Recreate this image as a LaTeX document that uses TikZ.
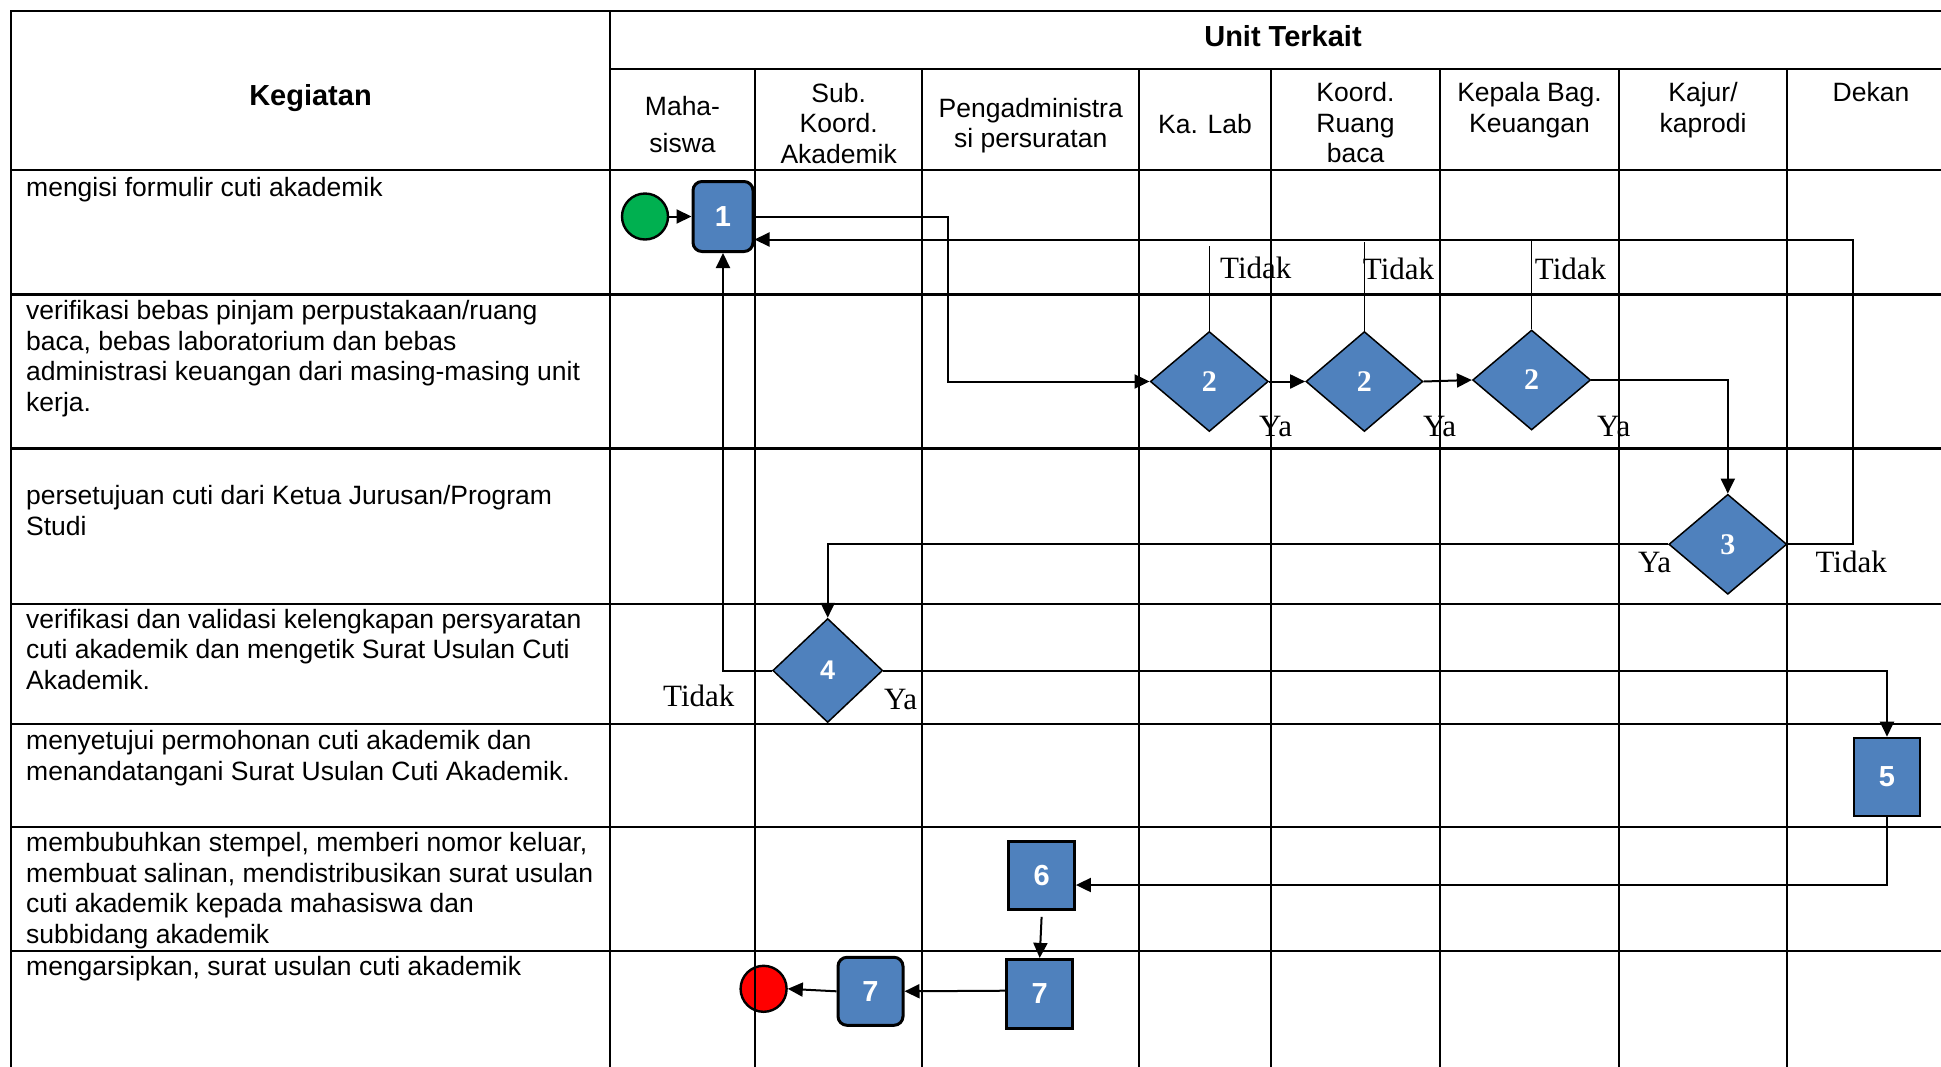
\documentclass[tikz,border=0pt]{standalone}
\usepackage{fontspec}
\setmainfont{Liberation Serif}
\newfontfamily\arialf{Liberation Sans}
\usetikzlibrary{shapes.geometric,arrows.meta}
\definecolor{boxblue}{HTML}{4F81BD}
\definecolor{startgreen}{HTML}{00B050}
\begin{document}
\begin{tikzpicture}[x=1pt,y=-1pt,
  tablerule/.style={line width=2.4pt},
  conn/.style={line width=2pt,-{Triangle[length=15pt,width=14pt]}},
  thinline/.style={line width=1.4pt},
  numsans/.style={text=white,font=\arialf\bfseries\fontsize{29}{29}\selectfont},
  numserif/.style={text=white,font=\bfseries\fontsize{30}{30}\selectfont},
  procbox/.style={rectangle,fill=boxblue,draw=black,line width=2.6pt,inner sep=0pt,numsans},
  rprocbox/.style={procbox,rounded corners=9pt,line width=3pt},
  decision/.style={diamond,fill=boxblue,draw=black,line width=1.5pt,inner sep=0pt},
  terminal/.style={circle,draw=black,line width=2.4pt,minimum size=46pt,inner sep=0pt},
  lbl/.style={font=\fontsize{31}{31}\selectfont,inner sep=0pt,anchor=base west},
  kegtext/.style={font=\arialf\fontsize{26.5}{30.5}\selectfont,align=left,inner sep=0pt,anchor=base west},
  headtext/.style={font=\arialf\fontsize{26.5}{30.5}\selectfont,align=center,inner sep=0pt,anchor=base},
  headbold/.style={font=\arialf\bfseries\fontsize{29}{29}\selectfont,inner sep=0pt,anchor=base},
]
\useasboundingbox[fill=white] (0,0) rectangle (1941,1066);

% header texts (anchor = baseline of the last line)
\node[headbold] (hkeg) at (310.5,105) {Kegiatan};
\node[headbold] (hunit) at (1283,46.7) {Unit Terkait};
\node[headtext] (hmaha) at (682.5,152) {Maha-\\[6pt]siswa};
\node[headtext] (hsub) at (838.7,163) {Sub.\\Koord.\\Akademik};
\node[headtext] (hpeng) at (1030.7,147.5) {Pengadministra\\si persuratan};
\node[headtext] (hlab) at (1205,133.3) {Ka. Lab};
\node[headtext] (hkoord) at (1355.5,162.7) {Koord.\\Ruang\\baca};
\node[headtext] (hkeu) at (1529.5,132) {Kepala Bag.\\Keuangan};
\node[headtext] (hkajur) at (1703,132) {Kajur/\\kaprodi};
\node[headtext] (hdekan) at (1871,101.7) {Dekan};

% activity texts (anchor = baseline of the last line)
\node[kegtext] (k1) at (26,196) {mengisi formulir cuti akademik};
\node[kegtext] (k2) at (26,411) {verifikasi bebas pinjam perpustakaan/ruang\\baca, bebas laboratorium dan bebas\\administrasi keuangan dari masing-masing unit\\kerja.};
\node[kegtext] (k3) at (26,535) {persetujuan cuti dari Ketua Jurusan/Program\\Studi};
\node[kegtext] (k4) at (26,689) {verifikasi dan validasi kelengkapan persyaratan\\cuti akademik dan mengetik Surat Usulan Cuti\\Akademik.};
\node[kegtext] (k5) at (26,780) {menyetujui permohonan cuti akademik dan\\menandatangani Surat Usulan Cuti Akademik.};
\node[kegtext] (k6) at (26,943) {membubuhkan stempel, memberi nomor keluar,\\membuat salinan, mendistribusikan surat usulan\\cuti akademik kepada mahasiswa dan\\subbidang akademik};
\node[kegtext] (k7) at (26,975) {mengarsipkan, surat usulan cuti akademik};

% shapes
\node[terminal,fill=startgreen] (start) at (645,216.5) {};
\node[rprocbox,minimum width=60pt,minimum height=70pt] (p1) at (723,216.5) {1};
\node[decision,numserif,minimum width=118pt,minimum height=100pt] (d1) at (1209.3,381.5) {2};
\node[decision,numserif,minimum width=117pt,minimum height=100pt] (d2) at (1364.4,381.5) {2};
\node[decision,numserif,minimum width=118pt,minimum height=100pt] (d3) at (1531.6,380) {2};
\node[decision,numserif,minimum width=118pt,minimum height=100pt] (d4) at (1727.8,544.3) {3};
\node[decision,numsans,font=\arialf\bfseries\fontsize{27}{27}\selectfont,minimum width=110pt,minimum height=104pt] (d5) at (827.7,670.5) {4};
\node[procbox,minimum width=66pt,minimum height=78pt] (p5) at (1887,777) {5};
\node[procbox,minimum width=66pt,minimum height=68pt] (p6) at (1041.6,875.5) {6};
\node[procbox,minimum width=66pt,minimum height=69pt] (p7a) at (1039.7,993.7) {7};
\node[rprocbox,minimum width=65pt,minimum height=68pt] (p7b) at (870.5,991.3) {7};
\node[terminal,fill=red] (stop) at (763.6,988.8) {};

% connectors
\coordinate (rtop) at (1853,239.5);
\draw[conn] (start.east) -- (p1.west);
\draw[conn] (p1.east) -- ++(193,0) |- (d1.west);
\draw[conn] (d1.east) -- (d2.west);
\draw[conn] (d2.east) -- (d3.west);
\draw[conn] (d3.east) -| (d4.north);
\draw[conn] (d4.west) -| (d5.north);
\draw[conn] (d4.east) -| (rtop) -- ([yshift=-23pt]p1.east);
\draw[thinline] (d1.north) -- ++(0,-85);
\draw[thinline] (d2.north) -- ++(0,-89);
\draw[thinline] (d3.north) -- ++(0,-90.5);
\draw[conn] (d5.west) -| (p1.south);
\draw[conn] (d5.east) -| (p5.north);
\draw[conn] (p5.south) |- ([yshift=-9.5pt]p6.east);
\draw[conn] ([yshift=-6pt]p6.south) -- (p7a.north);
\draw[conn] ([yshift=3pt]p7a.west) -- (p7b.east);
\draw[conn] (p7b.west) -- (stop.east);

% labels
\node[lbl] (t1) at (1220,278) {Tidak};
\node[lbl] (t2) at (1362.7,279) {Tidak};
\node[lbl] (t3) at (1534.7,279.5) {Tidak};
\node[lbl] (y1) at (1259,436.5) {Ya};
\node[lbl] (y2) at (1423,436.5) {Ya};
\node[lbl] (y3) at (1597,436) {Ya};
\node[lbl] (y4) at (1637.8,572.7) {Ya};
\node[lbl] (t4) at (1815.4,572.7) {Tidak};
\node[lbl] (t5) at (663,706.7) {Tidak};
\node[lbl] (y5) at (884,709.3) {Ya};

% table grid
\draw[tablerule] (11,1070) -- (11,11) -- (1945,11);
\draw[tablerule] (610,11) -- (610,1070);
\draw[tablerule] (610,69) -- (1945,69);
\foreach \yy in {170,294.5,448.5,604,724,827,951}
  \draw[tablerule] (11,\yy) -- (1945,\yy);
\foreach \xx in {755,922,1139,1271,1440,1619,1787}
  \draw[tablerule] (\xx,69) -- (\xx,1070);
\end{tikzpicture}
\end{document}
